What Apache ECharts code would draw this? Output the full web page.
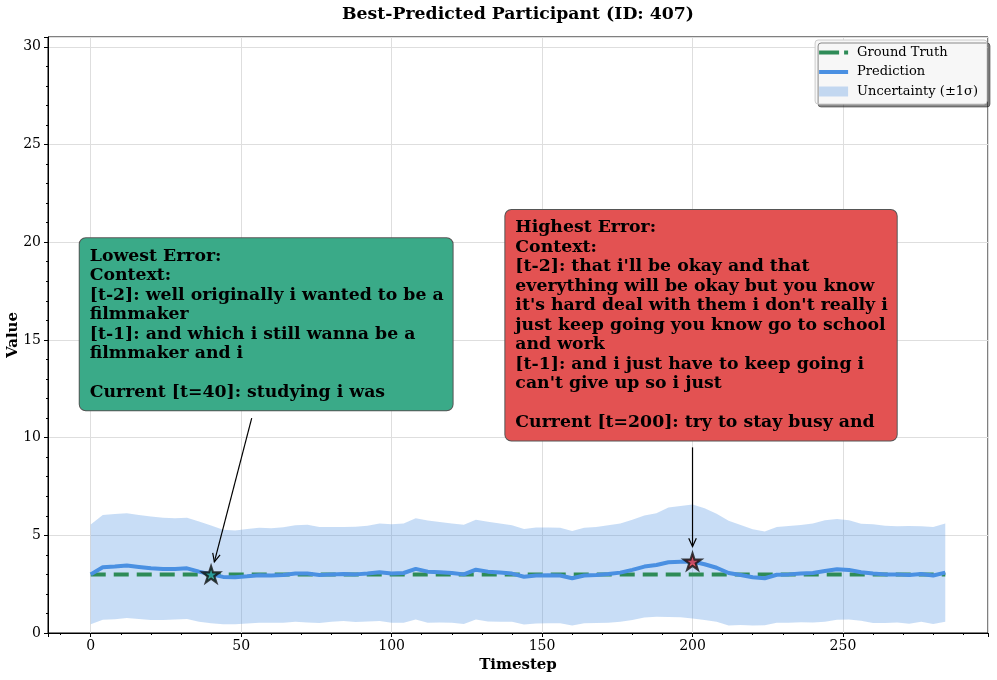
<!DOCTYPE html>
<html>
<head>
<meta charset="utf-8">
<script src="https://cdn.jsdelivr.net/npm/echarts@6/dist/echarts.min.js"></script>
<style>
html, body { margin: 0; padding: 0; background: #fff; }
#chart { width: 997px; height: 680px; }
</style>
</head>
<body>
<div id="chart"></div>
<script>
// data (every 4th timestep)
var timesteps = [0, 4, 8, 12, 16, 20, 24, 28, 32, 36, 40, 44, 48, 52, 56, 60, 64, 68,
    72, 76, 80, 84, 88, 92, 96, 100, 104, 108, 112, 116, 120, 124, 128, 132, 136, 140,
    144, 148, 152, 156, 160, 164, 168, 172, 176, 180, 184, 188, 192, 196, 200, 204, 208, 212,
    216, 220, 224, 228, 232, 236, 240, 244, 248, 252, 256, 260, 264, 268, 272, 276, 280, 284];
var prediction = [3.00, 3.36, 3.40, 3.45, 3.38, 3.31, 3.28, 3.28, 3.31, 3.14, 3.00, 2.87, 2.85, 2.90, 2.96, 2.94, 2.97, 3.05,
    3.04, 2.97, 3.00, 3.02, 3.00, 3.04, 3.11, 3.05, 3.07, 3.28, 3.14, 3.11, 3.07, 3.00, 3.24, 3.14, 3.09, 3.04,
    2.88, 2.94, 2.95, 2.94, 2.80, 2.94, 2.97, 3.02, 3.09, 3.23, 3.40, 3.48, 3.62, 3.65, 3.66, 3.52, 3.34, 3.07,
    2.97, 2.85, 2.80, 2.98, 3.00, 3.04, 3.07, 3.17, 3.26, 3.23, 3.11, 3.04, 3.00, 3.00, 2.97, 3.02, 2.94, 3.09];
var sigma = [2.55, 2.68, 2.69, 2.68, 2.66, 2.65, 2.62, 2.59, 2.59, 2.56, 2.50, 2.42, 2.40, 2.42, 2.43, 2.42, 2.44, 2.47,
    2.50, 2.46, 2.42, 2.41, 2.44, 2.45, 2.50, 2.52, 2.54, 2.59, 2.62, 2.57, 2.54, 2.54, 2.55, 2.55, 2.52, 2.47,
    2.44, 2.46, 2.45, 2.44, 2.42, 2.44, 2.46, 2.49, 2.52, 2.56, 2.61, 2.65, 2.80, 2.85, 2.92, 2.86, 2.76, 2.68,
    2.56, 2.46, 2.40, 2.45, 2.48, 2.49, 2.53, 2.60, 2.58, 2.54, 2.48, 2.53, 2.49, 2.46, 2.50, 2.44, 2.48, 2.52];
var groundTruth = 3.0;

// annotated points
var lowestT = 40, lowestValue = 3.00;
var highestT = 200, highestValue = 3.66;

var lowestText = 'Lowest Error:\nContext:\n[t-2]: well originally i wanted to be a\nfilmmaker\n' +
    '[t-1]: and which i still wanna be a\nfilmmaker and i\n\nCurrent [t=40]: studying i was';
var highestText = 'Highest Error:\nContext:\n[t-2]: that i\'ll be okay and that\n' +
    'everything will be okay but you know\nit\'s hard deal with them i don\'t really i\n' +
    'just keep going you know go to school\nand work\n[t-1]: and i just have to keep going i\n' +
    'can\'t give up so i just\n\nCurrent [t=200]: try to stay busy and';

var FONT = 'DejaVu Serif';
var BAND = 'rgba(74,144,226,0.3)';
var STAR = 'path://M0,-10 L2.25,-3.09 L9.51,-3.09 L3.63,1.18 L5.88,8.09 L0,3.82 L-5.88,8.09 L-3.63,1.18 L-9.51,-3.09 L-2.25,-3.09 Z';

var predPoints = timesteps.map(function (t, i) { return [t, prediction[i]]; });
var upperPoints = timesteps.map(function (t, i) { return [t, prediction[i] + sigma[i]]; });
var lowerPoints = timesteps.map(function (t, i) { return [t, prediction[i] - sigma[i]]; });
var bandData = timesteps.map(function (t, i) { return [t, lowerPoints[i][1], upperPoints[i][1]]; });
var gtPoints = [[timesteps[0], groundTruth], [timesteps[timesteps.length - 1], groundTruth]];

var chart = echarts.init(document.getElementById('chart'));

var option = {
    animation: false,
    grid: {
        left: 48, right: 9, top: 37, bottom: 47,
        outerBoundsMode: 'none',
        containLabel: false,
        show: true, borderColor: '#000', borderWidth: 1
    },
    legend: {
        orient: 'vertical',
        right: 10,
        top: 40,
        data: [
            { name: 'Ground Truth', icon: 'path://M0,0 H20 V4 H0 Z M25,0 H29 V4 H25 Z', itemStyle: { color: '#2e8b57' } },
            { name: 'Prediction', icon: 'path://M0,0 H29 V4 H0 Z', itemStyle: { color: '#4a90e2' } },
            { name: 'Uncertainty (±1σ)', icon: 'rect', itemStyle: { color: BAND } }
        ],
        itemWidth: 29,
        itemHeight: 10,
        itemGap: 6.5,
        padding: [6, 9, 6, 4],
        textStyle: { fontFamily: FONT, fontSize: 13, color: '#000', padding: [0, 0, 0, 4] },
        backgroundColor: '#f7f7f7',
        borderColor: '#cccccc',
        borderWidth: 1,
        borderRadius: 3,
        shadowColor: 'rgba(0,0,0,0.45)',
        shadowOffsetX: 3,
        shadowOffsetY: 3,
        shadowBlur: 0
    },
    xAxis: {
        type: 'value',
        min: -14.2,
        max: 298.2,
        minInterval: 50,
        maxInterval: 50,
        name: 'Timestep',
        nameLocation: 'middle',
        nameGap: 24,
        nameTextStyle: { fontFamily: FONT, fontWeight: 'bold', fontSize: 15, color: '#000' },
        axisLine: { onZero: false, lineStyle: { color: '#000', width: 1 } },
        axisTick: { length: 4, lineStyle: { color: '#000' } },
        minorTick: { show: true, splitNumber: 5, length: 2, lineStyle: { color: '#000' } },
        axisLabel: { fontFamily: FONT, fontSize: 14, color: '#000', margin: 6, showMinLabel: false, showMaxLabel: false },
        splitLine: { show: true, lineStyle: { color: '#dedede', width: 1 } }
    },
    yAxis: {
        type: 'value',
        min: 0,
        max: 30.5,
        interval: 5,
        name: 'Value',
        nameLocation: 'middle',
        nameGap: 27,
        nameMoveOverlap: false,
        nameTextStyle: { fontFamily: FONT, fontWeight: 'bold', fontSize: 15, color: '#000' },
        axisLine: { onZero: false, lineStyle: { color: '#000', width: 1 } },
        axisTick: { length: 4, lineStyle: { color: '#000' } },
        minorTick: { show: true, splitNumber: 5, length: 2, lineStyle: { color: '#000' } },
        axisLabel: { fontFamily: FONT, fontSize: 14, color: '#000', margin: 7, showMaxLabel: false },
        splitLine: { show: true, lineStyle: { color: '#dedede', width: 1 } }
    },
    series: [
        {
            name: 'Uncertainty (±1σ)',
            type: 'custom',
            data: bandData,
            encode: { x: 0, y: [1, 2] },
            itemStyle: { color: BAND },
            silent: true,
            z: 1,
            renderItem: function (params, api) {
                if (params.dataIndex !== 0) return null;
                var pts = upperPoints.map(function (p) { return api.coord(p); })
                    .concat(lowerPoints.slice().reverse().map(function (p) { return api.coord(p); }));
                return { type: 'polygon', shape: { points: pts }, style: { fill: BAND } };
            }
        },
        {
            name: 'Ground Truth',
            type: 'line',
            data: gtPoints,
            symbol: 'none',
            itemStyle: { color: '#2e8b57' },
            lineStyle: { color: '#2e8b57', width: 4, type: [15, 8] },
            z: 3
        },
        {
            name: 'Prediction',
            type: 'line',
            data: predPoints,
            symbol: 'none',
            itemStyle: { color: '#4a90e2' },
            lineStyle: { color: '#4a90e2', width: 4 },
            z: 4
        },
        {
            name: 'markers',
            type: 'scatter',
            symbol: STAR,
            symbolKeepAspect: true,
            symbolSize: 17,
            data: [
                { value: [lowestT, lowestValue], itemStyle: { color: '#1f9e89' } },
                { value: [highestT, highestValue], itemStyle: { color: '#e63946' } }
            ],
            itemStyle: { borderColor: '#111', borderWidth: 2.2 },
            z: 6
        }
    ]
};

chart.setOption(option);

// annotation boxes and arrows, anchored in data coordinates
function px(t, v) {
    return chart.convertToPixel({ gridIndex: 0 }, [t, v]);
}

function box(text, t, v, color) {
    var p = px(t, v);
    return {
        type: 'text',
        x: p[0], y: p[1], z: 100,
        style: {
            legacy: false,
            text: text,
            fontFamily: FONT,
            fontWeight: 'bold',
            fontSize: 17.3,
            fill: '#000',
            lineHeight: 19.5,
            align: 'left',
            verticalAlign: 'top',
            backgroundColor: color,
            borderColor: '#555',
            borderWidth: 1,
            borderRadius: 6,
            padding: [8, 9, 8, 10]
        }
    };
}

function arrow(fromT, fromV, toT, toV, shrink) {
    var a = px(fromT, fromV), b = px(toT, toV);
    var dx = b[0] - a[0], dy = b[1] - a[1];
    var len = Math.sqrt(dx * dx + dy * dy);
    var ux = dx / len, uy = dy / len;
    var tip = [b[0] - ux * shrink, b[1] - uy * shrink];
    var hl = 9, ang = 25 * Math.PI / 180;
    var cos = Math.cos(ang), sin = Math.sin(ang);
    var h1 = [tip[0] - hl * (ux * cos - uy * sin), tip[1] - hl * (uy * cos + ux * sin)];
    var h2 = [tip[0] - hl * (ux * cos + uy * sin), tip[1] - hl * (uy * cos - ux * sin)];
    return [
        { type: 'line', z: 100, shape: { x1: a[0], y1: a[1], x2: tip[0], y2: tip[1] }, style: { stroke: '#000', lineWidth: 1.2 } },
        { type: 'polyline', z: 100, shape: { points: [h1, tip, h2] }, style: { stroke: '#000', lineWidth: 1.2, fill: null } }
    ];
}

var graphics = [
    {
        type: 'text', x: 518, y: 15, z: 100,
        style: {
            legacy: false,
            text: 'Best-Predicted Participant (ID: 407)',
            fontFamily: FONT,
            fontWeight: 'bold',
            fontSize: 17.3,
            fill: '#000',
            align: 'center',
            verticalAlign: 'middle'
        }
    },
    box(lowestText, -3.65, 20.2, '#3aaa88'),
    box(highestText, 137.8, 21.65, '#e35252')
].concat(arrow(53.5, 11.0, lowestT, lowestValue, 13))
 .concat(arrow(highestT, 9.5, highestT, highestValue, 15));

chart.setOption({ graphic: { elements: graphics } });
</script>
</body>
</html>
